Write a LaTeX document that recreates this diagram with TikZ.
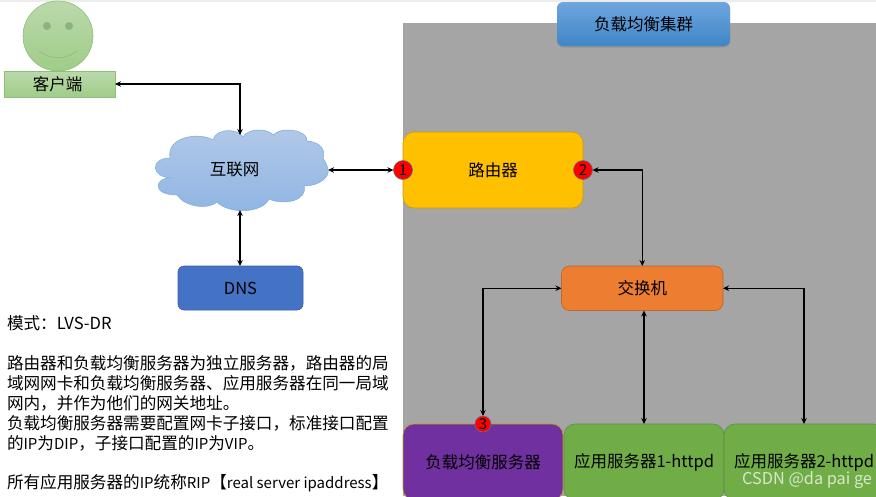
\documentclass[tikz,border=0pt]{standalone}
\usepackage{fontspec}
\setmainfont{Noto Sans CJK SC}
\usetikzlibrary{arrows.meta,shadows,calc}
\newcommand{\latn}[1]{{\fontsize{15}{20}\selectfont #1}}
\definecolor{panel}{HTML}{A5A5A5}
\definecolor{strip}{HTML}{EDEDED}
\definecolor{facetop}{HTML}{BBD9AC}
\definecolor{facebot}{HTML}{A0CC88}
\definecolor{faceline}{HTML}{8CC271}
\definecolor{eye}{HTML}{8DB27F}
\definecolor{cloudtop}{HTML}{B2C9E8}
\definecolor{cloudbot}{HTML}{8FB5E3}
\definecolor{cloudline}{HTML}{7FB0E0}
\definecolor{titletop}{HTML}{6EA6DE}
\definecolor{titlebot}{HTML}{4085C8}
\definecolor{routerfill}{HTML}{FFC000}
\definecolor{routerline}{HTML}{C99A10}
\definecolor{switchfill}{HTML}{ED7D31}
\definecolor{switchline}{HTML}{B8692E}
\definecolor{dnsfill}{HTML}{4472C4}
\definecolor{lbfill}{HTML}{7030A0}
\definecolor{appfill}{HTML}{70AD47}
\definecolor{appline}{HTML}{5F8F44}
\definecolor{badgeline}{HTML}{6A6A90}
\tikzset{
  x=1pt,y=-1pt,
  every node/.style={font=\fontsize{16.5}{20}\selectfont,text=black,inner sep=0pt,outer sep=0pt},
  box/.style={rounded corners=#1,minimum width=0pt,draw,line width=0.6pt},
  link/.style={draw=black,line width=1.25pt,{Stealth[length=6pt,width=5.5pt]}-{Stealth[length=6pt,width=5.5pt]}},
  badge/.style={circle,fill=red,draw=badgeline,line width=0.6pt,minimum size=#1,font=\fontsize{15}{15}\selectfont},
  sized/.style 2 args={minimum width=#1,minimum height=#2},
}
\begin{document}
\begin{tikzpicture}
\useasboundingbox (0,0) rectangle (876,496);
\fill[strip] (0,0) rectangle (876,2);
\fill[panel] (403,23) rectangle (876,496);

% client
\shade[top color=facetop,bottom color=facebot,draw=faceline,line width=0.6pt] (58,36) circle (35);
\fill[eye] (47,26) circle (4);
\fill[eye] (69,26) circle (4);
\draw[faceline,line width=0.7pt] (39,51) .. controls (50,60) and (66,60) .. (77,51);
\node[top color=facetop,bottom color=facebot,draw=faceline,line width=0.6pt,sized={111pt}{26pt}] (client) at (59.5,84) {\kern-4pt 客户端};

% cloud
\shade[top color=cloudtop,bottom color=cloudbot,draw=cloudline,line width=0.6pt]
  (170,158) .. controls (150,158) and (150,178) .. (173,178)
  .. controls (155,176) and (150,195) .. (177,195)
  .. controls (185,207) and (208,210) .. (217,202)
  .. controls (228,214) and (262,214) .. (269,199)
  .. controls (285,206) and (308,200) .. (304,186)
  .. controls (320,186) and (330,176) .. (328,170)
  .. controls (328,166) and (324,160) .. (323,158)
  .. controls (326,150) and (320,142) .. (307,141)
  .. controls (308,130) and (282,126) .. (273,135)
  .. controls (268,128) and (248,128) .. (243,137)
  .. controls (238,128) and (216,128) .. (213,140)
  .. controls (200,132) and (166,136) .. (170,158) -- cycle;
\node (internet) at (234.5,169) {互联网};
\coordinate (cloudN) at (240,135);
\coordinate (cloudS) at (240,210);
\coordinate (cloudE) at (328,170);

% DNS
\node[box=6pt,fill=dnsfill,draw=dnsfill!85!black,sized={125pt}{44pt}] (dns) at (240.5,288) {\raisebox{-1pt}{DNS}};

% panel contents
\node[box=6pt,top color=titletop,bottom color=titlebot,draw=none,drop shadow={shadow xshift=0pt,shadow yshift=-1.5pt,opacity=0.45},sized={173pt}{44pt}] (title) at (643.5,24) {负载均衡集群};
\node[box=11pt,fill=routerfill,draw=routerline,sized={180pt}{76pt}] (router) at (493,170) {路由器};
\node[box=8pt,fill=switchfill,draw=switchline,sized={161.5pt}{44.5pt}] (switch) at (642.25,288.25) {交换机};
\node[box=11pt,fill=lbfill,draw=routerline,sized={160pt}{76pt}] (lb) at (483,462) {负载均衡服务器};
\node[box=11pt,fill=appfill,draw=appline,sized={160pt}{76pt}] (app1) at (644,462) {应用服务器1-httpd};
\node[box=11pt,fill=appfill,draw=appline,sized={160pt}{76pt}] (app2) at (804,462) {应用服务器2-httpd};

\node[badge=19pt] (b1) at (403,170) {1};
\node[badge=19pt] (b2) at (583,170) {2};
\node[badge=16pt] (b3) at (483,424) {3};

% connectors
\draw[link] (client.east) -| (cloudN);
\draw[link] (cloudS) -- (dns.north -| cloudS);
\draw[link] (cloudE) -- (b1.west);
\draw[link] (b2.east) -| (switch.north);
\draw[link] (switch.west) -| (b3.north);
\draw[link] (switch.south -| app1.north) -- (app1.north);
\draw[link] (switch.east) -| (app2.north);

% notes
\node[anchor=north west,align=left,font=\fontsize{16.6}{20}\selectfont] (note) at (7,316) {模式：LVS-DR\\[20pt]
路由器和负载均衡服务器为独立服务器，路由器的局\\
域网网卡和负载均衡服务器、应用服务器在同一局域\\
网内，并作为他们的网关地址。\\
负载均衡服务器需要配置网卡子接口，标准接口配置\\
的\latn{IP}为\latn{DIP}，子接口配置的\latn{IP}为\latn{VIP}。\\[18.5pt]
所有应用服务器的\latn{IP}统称\latn{RIP}【\latn{real server ipaddress}】};

\node[text=white,text opacity=0.72,font=\fontsize{16.3}{16}\selectfont,anchor=east] (mark) at (872,480) {CSDN @da pai ge};
\end{tikzpicture}
\end{document}
